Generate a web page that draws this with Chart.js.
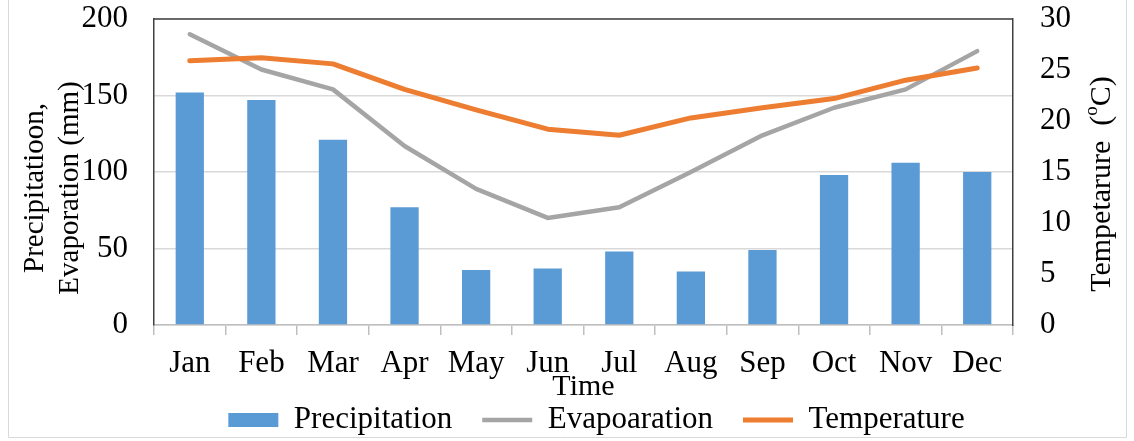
<!DOCTYPE html>
<html>
<head>
<meta charset="utf-8">
<title>Precipitation, evaporation and temperature</title>
<script src="https://cdn.jsdelivr.net/npm/chart.js@4.4.0/dist/chart.umd.min.js"></script>
<style>
  html, body { margin: 0; padding: 0; background: #fff; }
  #wrap { width: 1134px; height: 441px; }
</style>
</head>
<body>
<div id="wrap"><canvas id="chartCanvas"></canvas></div>
<script>
// monthly values
const months = ['Jan', 'Feb', 'Mar', 'Apr', 'May', 'Jun', 'Jul', 'Aug', 'Sep', 'Oct', 'Nov', 'Dec'];
const precipitation = [152, 147, 121, 77, 36, 37, 48, 35, 49, 98, 106, 100];
const evaporation = [190, 167, 154, 117, 89, 70, 77, 100, 124, 142, 154, 179];
const temperature = [25.9, 26.2, 25.6, 23.1, 21.1, 19.2, 18.6, 20.3, 21.3, 22.2, 24.0, 25.2];
const leftTicks = [0, 50, 100, 150, 200];
const rightTicks = [0, 5, 10, 15, 20, 25, 30];
const leftTitle = ['Precipitatioon,', 'Evaporation (mm)'];

const serif = "'Liberation Serif', 'Times New Roman', serif";
const dark = '#404040';

// top edge of the plot, outer border and both axis titles
const framePlugin = {
    id: 'frame',
    afterDraw(chart) {
        const ctx = chart.ctx;
        const a = chart.chartArea;
        const midY = (a.top + a.bottom) / 2;
        ctx.save();
        ctx.strokeStyle = dark;
        ctx.lineWidth = 1.5;
        ctx.beginPath();
        ctx.moveTo(a.left, a.top);
        ctx.lineTo(a.right, a.top);
        ctx.stroke();

        ctx.strokeStyle = '#d9d9d9';
        ctx.lineWidth = 1;
        ctx.beginPath();
        ctx.moveTo(8.5, 0);
        ctx.lineTo(8.5, 437.5);
        ctx.lineTo(1126.5, 437.5);
        ctx.lineTo(1126.5, 0);
        ctx.stroke();

        ctx.fillStyle = '#000';
        ctx.textBaseline = 'middle';

        // left title, two lines, sits a little below the middle in the original
        ctx.save();
        ctx.font = '29px ' + serif;
        ctx.textAlign = 'center';
        ctx.translate(35.5, midY + 16);
        ctx.rotate(-Math.PI / 2);
        leftTitle.forEach((line, i) => ctx.fillText(line, 0, i * 35));
        ctx.restore();

        // right title reads bottom-to-top too, with a raised "o"
        const parts = [['Tempetarure  (', 30, 0], ['o', 19, -10], ['C)', 30, 0]];
        let total = 0;
        parts.forEach(p => {
            ctx.font = p[1] + 'px ' + serif;
            p.push(ctx.measureText(p[0]).width);
            total += p[3];
        });
        ctx.translate(chart.scales.y1.left + 89, midY + 12);
        ctx.rotate(-Math.PI / 2);
        let x = -total / 2;
        parts.forEach(p => {
            ctx.font = p[1] + 'px ' + serif;
            ctx.fillText(p[0], x, p[2]);
            x += p[3];
        });
        ctx.restore();
    }
};

// tick padding would otherwise push the plot area down
function noVerticalPadding(scale) {
    scale.paddingTop = 0;
    scale.paddingBottom = 0;
}

const ctx = document.getElementById('chartCanvas').getContext('2d');
const chart = new Chart(ctx, {
    type: 'bar',
    data: {
        labels: months,
        datasets: [
            {
                label: 'Precipitation',
                data: precipitation,
                backgroundColor: '#5b9bd5',
                borderWidth: 0,
                barPercentage: 0.395,
                categoryPercentage: 1,
                yAxisID: 'y',
                order: 3
            },
            {
                type: 'line',
                label: 'Evapoaration',
                data: evaporation,
                borderColor: '#a5a5a5',
                backgroundColor: '#a5a5a5',
                borderWidth: 4.5,
                borderCapStyle: 'round',
                borderJoinStyle: 'round',
                pointRadius: 0,
                pointStyle: 'line',
                tension: 0,
                yAxisID: 'y',
                order: 2
            },
            {
                type: 'line',
                label: 'Temperature',
                data: temperature,
                borderColor: '#ed7d31',
                backgroundColor: '#ed7d31',
                borderWidth: 5,
                borderCapStyle: 'round',
                borderJoinStyle: 'round',
                pointRadius: 0,
                pointStyle: 'line',
                tension: 0,
                yAxisID: 'y1',
                order: 1
            }
        ]
    },
    options: {
        responsive: true,
        maintainAspectRatio: false,
        animation: false,
        layout: {
            padding: { top: 19, left: 59, right: 0, bottom: -4.5 }
        },
        plugins: {
            legend: {
                display: true,
                position: 'bottom',
                labels: {
                    usePointStyle: true,
                    pointStyleWidth: 50,
                    boxHeight: 14,
                    padding: 30,
                    color: '#000',
                    font: { family: serif, size: 31 },
                    generateLabels(chart) {
                        const items = Chart.defaults.plugins.legend.labels.generateLabels(chart);
                        items.sort((a, b) => a.datasetIndex - b.datasetIndex);
                        items.forEach(it => {
                            if (it.datasetIndex === 0) it.pointStyle = 'rect';
                        });
                        return items;
                    }
                }
            },
            tooltip: { enabled: false }
        },
        scales: {
            x: {
                grid: {
                    offset: true,
                    drawOnChartArea: false,
                    drawTicks: true,
                    tickLength: 10,
                    color: '#bfbfbf',
                    lineWidth: 1.5
                },
                border: { color: '#bfbfbf', width: 1.5 },
                ticks: {
                    color: '#000',
                    padding: 10,
                    font: { family: serif, size: 31 }
                },
                title: {
                    display: true,
                    text: 'Time',
                    color: '#000',
                    font: { family: serif, size: 30, lineHeight: 1 },
                    padding: { top: 0, bottom: -27.5 }
                },
                afterFit(scale) {
                    scale.height = 49.5;
                    // the axis box is short here, don't let it cut the month labels
                    scale._computeLabelArea = () => null;
                }
            },
            y: {
                position: 'left',
                min: 0,
                max: 200,
                afterBuildTicks(scale) { scale.ticks = leftTicks.map(v => ({ value: v })); },
                grid: {
                    color: '#d9d9d9',
                    lineWidth: 1.5,
                    drawTicks: false
                },
                border: { color: dark, width: 1.5 },
                ticks: {
                    color: '#000',
                    padding: 26,
                    font: { family: serif, size: 31 }
                },
                afterFit(scale) {
                    scale.width = 95;
                    noVerticalPadding(scale);
                }
            },
            y1: {
                position: 'right',
                min: 0,
                max: 30,
                afterBuildTicks(scale) { scale.ticks = rightTicks.map(v => ({ value: v })); },
                grid: { drawOnChartArea: false, drawTicks: false },
                border: { color: dark, width: 1.5 },
                ticks: {
                    color: '#000',
                    padding: 27,
                    font: { family: serif, size: 31 }
                },
                afterFit(scale) {
                    scale.width = 121;
                    noVerticalPadding(scale);
                }
            }
        }
    },
    plugins: [framePlugin]
});
</script>
</body>
</html>
